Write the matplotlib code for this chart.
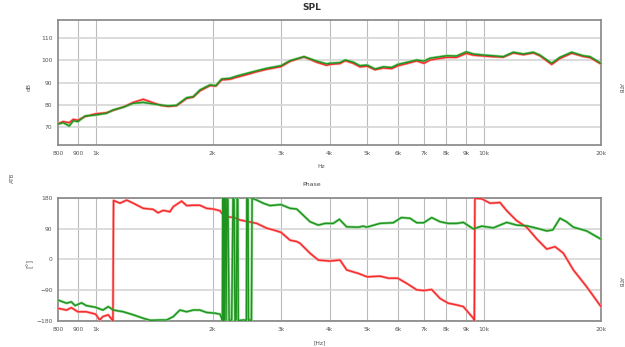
"""SPL and phase comparison of two measurements (red / green)."""

import matplotlib

matplotlib.use("Agg")
import matplotlib.pyplot as plt
from matplotlib.ticker import FixedLocator, NullLocator

# --- SPL data (Hz, dB) ---
spl_freq = [800, 825, 842, 855, 876, 900, 939, 1000, 1067, 1110, 1178, 1250,
            1326, 1406, 1475, 1538, 1616, 1715, 1784, 1855, 1969, 2040, 2111,
            2218, 2307, 2449, 2599, 2757, 3000, 3166, 3440, 3707, 3934, 4000,
            4257, 4390, 4607, 4792, 5000, 5240, 5504, 5783, 6000, 6320, 6708,
            7000, 7258, 8000, 8500, 9000, 9384, 10000, 10563, 11210, 11890,
            12620, 13390, 13930, 14930, 15680, 16810, 18010, 18740, 20000]
spl_green = [71.2, 71.8, 71.0, 70.3, 72.7, 72.3, 74.8, 75.3, 76.1, 77.6, 78.8,
             80.6, 81.0, 80.3, 79.8, 79.4, 79.7, 83.1, 83.6, 86.6, 88.9, 88.6,
             91.6, 91.9, 92.9, 94.1, 95.3, 96.4, 97.6, 99.9, 101.7, 99.7, 98.4,
             98.7, 99.0, 100.2, 99.2, 97.6, 97.9, 96.1, 97.1, 96.8, 98.2, 99.1,
             100.2, 99.7, 101.0, 102.1, 102.0, 103.9, 102.9, 102.4, 102.1,
             101.7, 103.7, 102.9, 103.7, 102.4, 98.7, 101.4, 103.7, 102.1,
             101.7, 98.7]
spl_red = [71.3, 72.3, 72.0, 71.8, 73.3, 72.9, 74.6, 75.8, 76.3, 77.4, 78.9,
           81.0, 82.4, 80.8, 79.6, 79.2, 79.5, 82.8, 83.4, 86.2, 88.6, 88.4,
           91.2, 91.5, 92.4, 93.6, 94.9, 96.0, 97.2, 99.6, 101.6, 99.2, 97.8,
           98.2, 98.6, 99.9, 98.7, 97.1, 97.4, 95.8, 96.6, 96.3, 97.6, 98.6,
           99.8, 98.7, 100.2, 101.4, 101.4, 103.2, 102.4, 102.0, 101.7, 101.5,
           103.4, 102.6, 103.4, 102.1, 98.2, 100.9, 103.3, 101.8, 101.3, 98.4]

# --- Phase data (Hz, degrees, wrapped to +-180) ---
phase_red_freq = [800, 842, 866, 900, 946, 1000, 1024, 1044, 1078, 1100, 1108,
                  1112, 1155, 1202, 1250, 1326, 1406, 1448, 1493, 1553, 1585,
                  1665, 1715, 1784, 1855, 1930, 2008, 2090, 2146, 2262, 2353,
                  2449, 2599, 2757, 2866, 3000, 3166, 3293, 3358, 3563, 3743,
                  4000, 4257, 4430, 4745, 5000, 5396, 5669, 5994, 6320, 6708,
                  7000, 7331, 7700, 8085, 8500, 8843, 9384, 9440, 9470, 9571,
                  9861, 10357, 10990, 11440, 12130, 12870, 13660, 14500, 15230,
                  16000, 16980, 18370, 20000]
phase_red = [-143, -148, -141, -153, -153, -160, -177, -167, -162, -175, -179,
             172, 164, 173, 164, 149, 146, 136, 143, 139, 154,
             170, 157, 158, 158, 149, 147, 142, 124, 123, 115,
             111, 105, 91, 86, 79, 56, 52, 47, 18, -2,
             -5, -2, -31, -41, -51, -49, -55, -55, -70, -89,
             -91, -88, -114, -128, -133, -138, -172, -179, 179, 178,
             177, 164, 166, 142, 113, 94, 60, 30, 37,
             18, -31, -80, -138]

phase_green_freq = [800, 842, 866, 885, 920, 946, 1000, 1044, 1078, 1110, 1178,
                    1250, 1326, 1383, 1465, 1524, 1585, 1648, 1715, 1784, 1855,
                    1930, 2024, 2090, 2111, 2120, 2124, 2133, 2138, 2146, 2158,
                    2166, 2178, 2190, 2206, 2240, 2258, 2272, 2284, 2300, 2314,
                    2322, 2330, 2400, 2444, 2450, 2468, 2474, 2500, 2518, 2528,
                    2560, 2600, 2700, 2811, 3000, 3166, 3293, 3358, 3563, 3743,
                    3894, 4089, 4242, 4427, 4745, 4887, 4987, 5396, 5838, 6125,
                    6447, 6708, 6995, 7331, 7700, 8085, 8500, 8843, 9384, 9861,
                    10563, 11440, 12130, 12870, 13660, 14500, 15030, 15685,
                    16290, 16980, 18370, 20000]
phase_green = [-119, -128, -124, -135, -127, -135, -140, -148, -138, -148, -153,
               -162, -172, -178, -177, -177, -167, -148, -153, -148, -148,
               -155, -157, -160, -172, -179, 178, 176, -179, 179, 176,
               -178, 178, 177, -178, -177, 179, 176, -178, -177, 178,
               175, -179, -177, -178, 178, 176, -178, -177, -179, 179,
               176, 173, 164, 157, 160, 149, 147, 138, 110, 100,
               105, 105, 117, 95, 94, 97, 94, 105, 107, 122,
               120, 107, 107, 122, 110, 105, 105, 108, 89, 97,
               92, 108, 100, 98, 91, 83, 86, 120,
               110, 94, 83, 59]

# --- axis ticks ---
x_ticks = [800, 900, 1000, 2000, 3000, 4000, 5000, 6000, 7000, 8000, 9000,
           10000, 20000]
x_tick_labels = ["800", "900", "1k", "2k", "3k", "4k", "5k", "6k", "7k", "8k",
                 "9k", "10k", "20k"]
spl_ticks = [70, 80, 90, 100, 110]
phase_ticks = [-180, -90, 0, 90, 180]

RED = "#f42a2a"
RED_EDGE = "#ffa0a0"
GREEN = "#1f931f"
GREEN_EDGE = "#8fd88f"
FRAME = "#858585"
TICK_FS = 4.3


def draw_curve(ax, freq, values, color, edge):
    """Draw a curve with a soft halo like the measurement software does."""
    ax.plot(freq, values, color=edge, lw=1.9, solid_joinstyle="round", zorder=3)
    ax.plot(freq, values, color=color, lw=1.0, solid_joinstyle="round", zorder=4)


def style_axes(ax, y_ticks):
    """Log frequency axis, light grid, grey frame."""
    ax.set_xscale("log")
    ax.set_xlim(800, 20000)
    ax.xaxis.set_major_locator(FixedLocator(x_ticks))
    ax.xaxis.set_minor_locator(NullLocator())
    ax.set_xticklabels(x_tick_labels)
    ax.set_yticks(y_ticks)
    ax.tick_params(axis="both", length=0, labelsize=TICK_FS, colors="#555555",
                   pad=4)
    for x in x_ticks[1:-1]:
        ax.axvline(x, color="#bbbbbb", lw=0.8, zorder=1)
    for y in y_ticks:
        ax.axhline(y, color="#d6d6d6", lw=1.2, zorder=1)
    for spine in ax.spines.values():
        spine.set_color(FRAME)
        spine.set_linewidth(1.2)


fig = plt.figure(figsize=(6.25, 3.47), dpi=100)

# SPL panel
ax_spl = fig.add_axes([0.0928, 0.5821, 0.8688, 0.3602])
style_axes(ax_spl, spl_ticks)
ax_spl.set_ylim(61.7, 118.3)
draw_curve(ax_spl, spl_freq, spl_red, RED, RED_EDGE)
draw_curve(ax_spl, spl_freq, spl_green, GREEN, GREEN_EDGE)

# Phase panel
ax_ph = fig.add_axes([0.0928, 0.0749, 0.8688, 0.3553])
style_axes(ax_ph, phase_ticks)
ax_ph.set_ylim(-180, 180)
draw_curve(ax_ph, phase_red_freq, phase_red, RED, RED_EDGE)
draw_curve(ax_ph, phase_green_freq, phase_green, GREEN, GREEN_EDGE)

# titles and axis labels placed like the original export
fig.text(0.4992, 0.977, "SPL", ha="center", va="center", fontsize=6.5,
         fontweight="bold", color="#333333")
fig.text(0.4992, 0.467, "Phase", ha="center", va="center", fontsize=4.5,
         color="#444444")
fig.text(0.5136, 0.519, "Hz", ha="center", va="center", fontsize=4.3,
         color="#555555")
fig.text(0.512, 0.012, "[Hz]", ha="center", va="center", fontsize=4.3,
         color="#555555")
fig.text(0.0464, 0.749, "dB", ha="center", va="center", fontsize=4.3,
         rotation=90, color="#555555")
fig.text(0.048, 0.242, "[°]", ha="center", va="center", fontsize=5,
         rotation=90, color="#555555")
fig.text(0.0192, 0.487, "ATB", ha="center", va="center", fontsize=4,
         rotation=90, color="#555555")
fig.text(0.992, 0.746, "ATB", ha="center", va="center", fontsize=4,
         rotation=-90, color="#555555")
fig.text(0.992, 0.187, "ATB", ha="center", va="center", fontsize=4,
         rotation=-90, color="#555555")

fig.savefig("out.png", dpi=100)
